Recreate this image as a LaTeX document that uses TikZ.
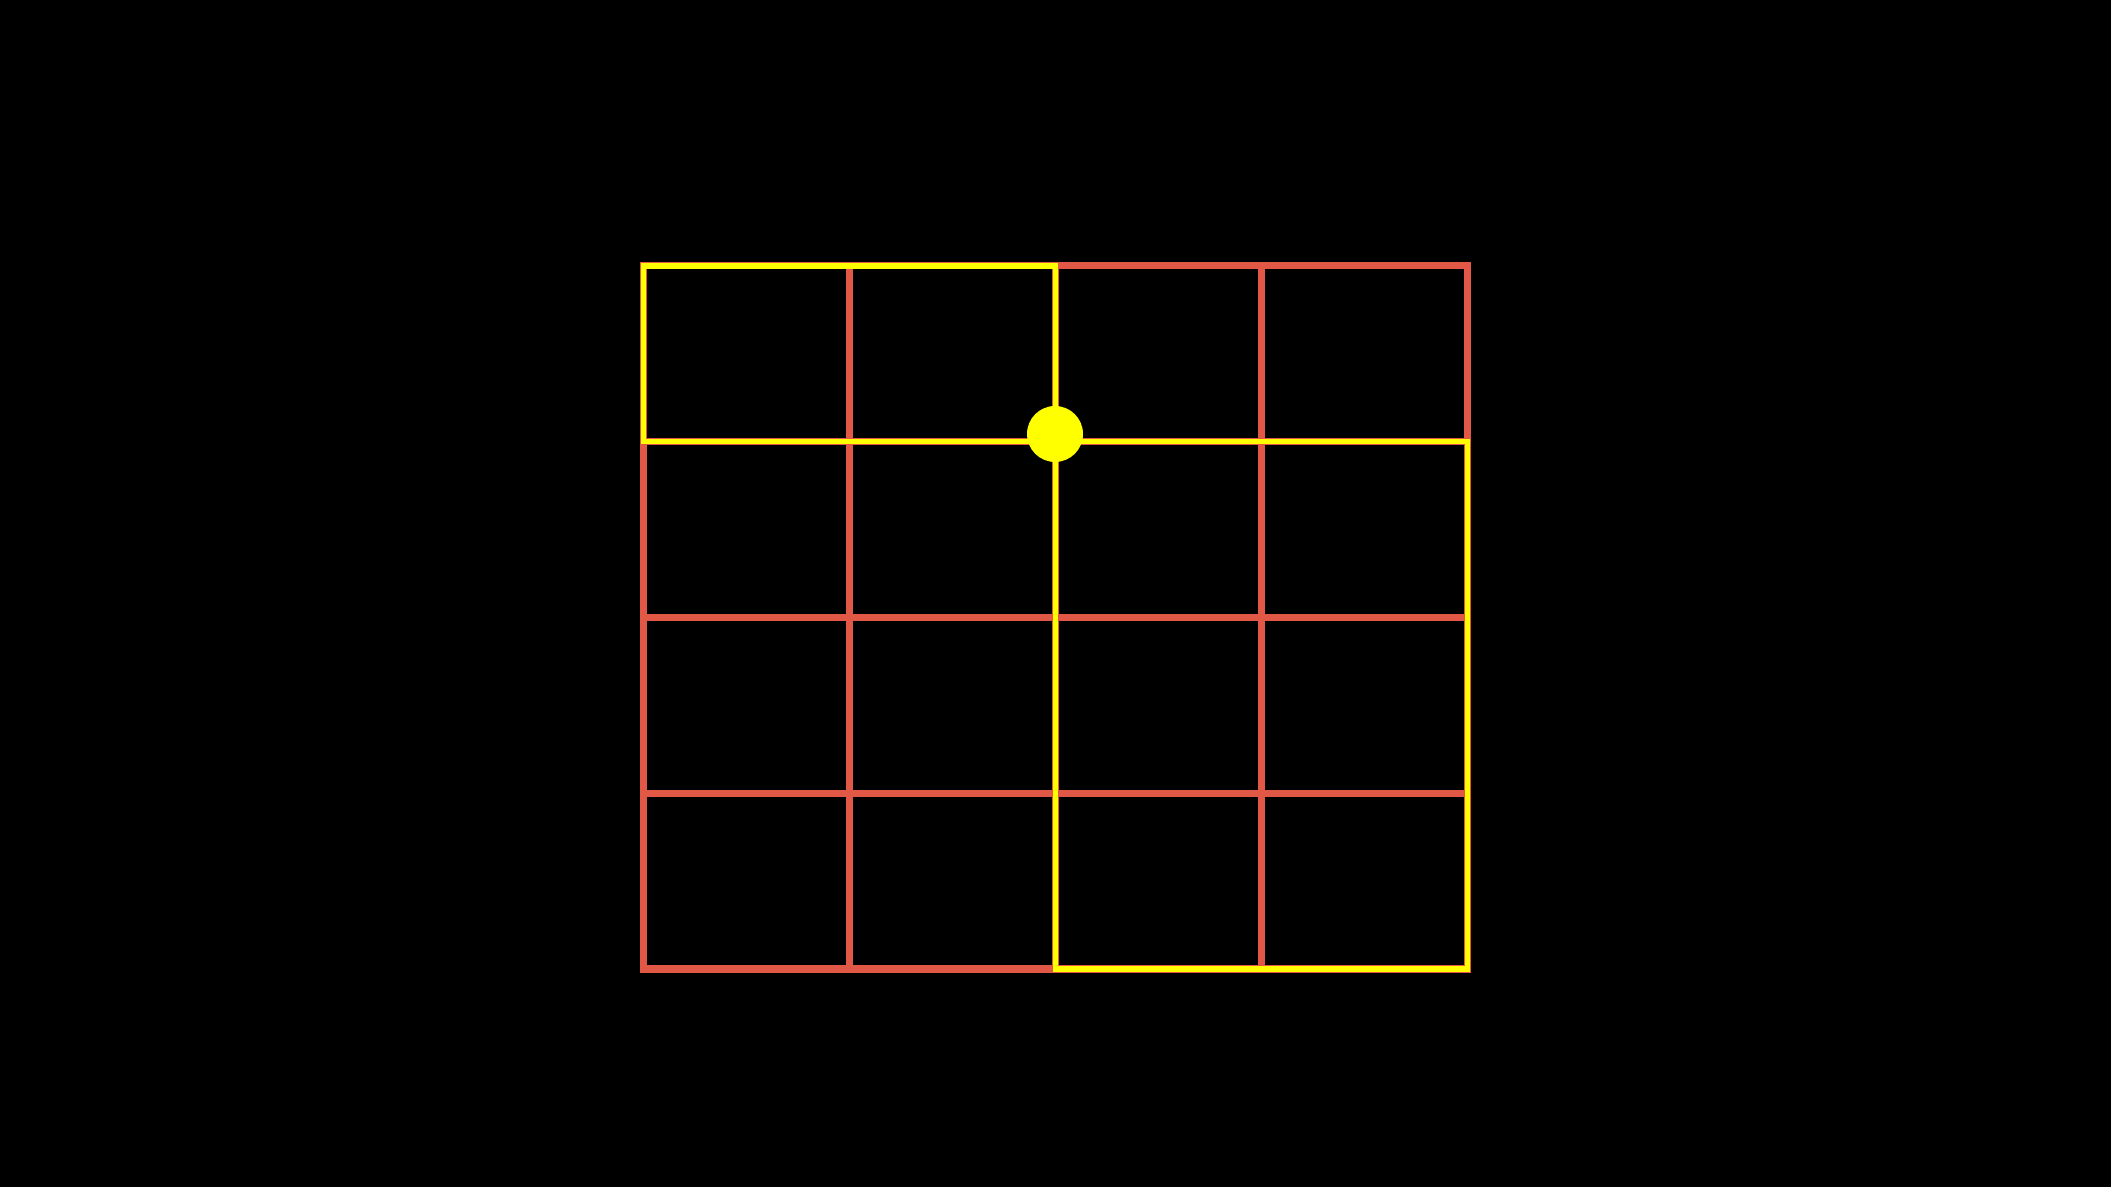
\documentclass[tikz,border=0pt]{standalone}
\definecolor{gridred}{RGB}{226,88,70}
\definecolor{pathyellow}{RGB}{255,255,0}
\begin{document}
\begin{tikzpicture}[x=1cm,y=1cm,line join=miter,
  gridline/.style={draw=gridred,line width=2pt,line cap=rect},
  pathline/.style={draw=pathyellow,line width=1.5pt,line cap=rect}]
  % black backdrop, fixes the page size
  \fill[black] (0,0) rectangle (21.11,11.87);
  \useasboundingbox (0,0) rectangle (21.11,11.87);
  % 4 x 4 grid of cells
  \foreach \gx in {6.435,8.495,10.555,12.615,14.675} {
    \draw[gridline] (\gx,2.18) -- (\gx,9.21);
  }
  \foreach \gy in {2.18,3.9375,5.695,7.4525,9.21} {
    \draw[gridline] (6.435,\gy) -- (14.675,\gy);
  }
  % upper-left block and lower-right block
  \draw[pathline] (6.435,7.4525) rectangle (10.555,9.21);
  \draw[pathline] (10.555,2.18) rectangle (14.675,7.4525);
  % the meeting point
  \fill[pathyellow] (10.55,7.53) circle (0.28);
\end{tikzpicture}
\end{document}
